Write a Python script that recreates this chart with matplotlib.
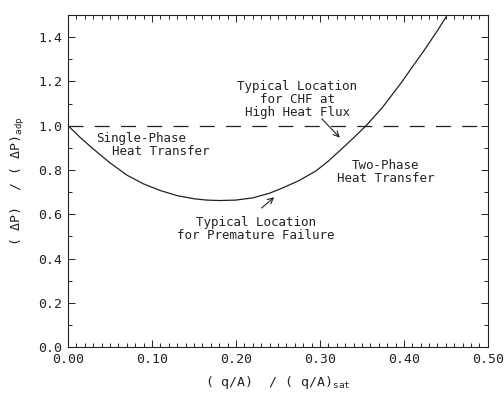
import matplotlib
matplotlib.use("Agg")
import matplotlib.pyplot as plt
import numpy as np

plt.rcParams['font.family'] = ['DejaVu Sans Mono']
plt.rcParams['mathtext.fontset'] = 'custom'
plt.rcParams['mathtext.rm'] = 'DejaVu Sans Mono'
plt.rcParams['mathtext.it'] = 'DejaVu Sans Mono'

# Data
flux_ratio = [0.0, 0.015, 0.03, 0.05, 0.07, 0.09, 0.11, 0.13, 0.15, 0.165, 0.18, 0.20, 0.22,
              0.24, 0.255, 0.275, 0.295, 0.31, 0.325, 0.34, 0.355, 0.375,
              0.397, 0.41, 0.425, 0.44, 0.45]
dp_ratio = [1.0, 0.945, 0.895, 0.832, 0.777, 0.737, 0.707, 0.684, 0.670, 0.664, 0.662, 0.664, 0.674,
            0.695, 0.718, 0.752, 0.795, 0.84, 0.892, 0.945, 1.0, 1.085,
            1.195, 1.265, 1.345, 1.43, 1.49]
ref_level = 1.0
x_ticks = [0.0, 0.1, 0.2, 0.3, 0.4, 0.5]
x_tick_labels = ["0.00", "0.10", "0.20", "0.30", "0.40", "0.50"]
y_ticks = [0.0, 0.2, 0.4, 0.6, 0.8, 1.0, 1.2, 1.4]
y_tick_labels = ["0.0", "0.2", "0.4", "0.6", "0.8", "1.0", "1.2", "1.4"]

fig = plt.figure(figsize=(5.04, 3.94), dpi=100)
ax = fig.add_axes([0.135, 0.119, 0.833, 0.843])
ink = '#222222'

ax.plot(flux_ratio, dp_ratio, color=ink, lw=0.9)
ax.axhline(ref_level, color=ink, lw=0.9, linestyle=(0, (12, 9)))

ax.set_xlim(0, 0.5)
ax.set_ylim(0, 1.5)
ax.set_xticks(x_ticks)
ax.set_xticklabels(x_tick_labels)
ax.set_yticks(y_ticks)
ax.set_yticklabels(y_tick_labels)
ax.set_xticks(np.arange(0, 0.5001, 0.01), minor=True)
ax.set_yticks(np.arange(0, 1.5001, 0.1), minor=True)
ax.tick_params(which='both', direction='in', top=True, right=True,
               colors=ink, labelsize=9.5, width=0.7)
ax.tick_params(which='major', length=5, pad=4)
ax.tick_params(which='minor', length=3)
for s in ax.spines.values():
    s.set_linewidth(0.8)
    s.set_color(ink)

ax.set_xlabel("( q/A)  / ( q/A)$_{\\mathrm{sat}}$", fontsize=9.5, color=ink, labelpad=6)
ax.set_ylabel("( \u0394P)  / ( \u0394P)$_{\\mathrm{adp}}$", fontsize=9.5, color=ink, labelpad=8)

tk = dict(fontsize=9, color=ink)
ax.text(0.034, 0.914, "Single-Phase\n  Heat Transfer", ha='left', va='center',
        linespacing=1.0, **tk)
ax.text(0.273, 1.118, "Typical Location\nfor CHF at\nHigh Heat Flux", ha='center',
        va='center', linespacing=1.0, **tk)
ax.text(0.378, 0.79, "Two-Phase\nHeat Transfer", ha='center', va='center',
        linespacing=1.0, **tk)
ax.text(0.224, 0.534, "Typical Location\nfor Premature Failure", ha='center',
        va='center', linespacing=1.0, **tk)

ax.annotate("", xy=(0.326, 0.937), xytext=(0.300, 1.04),
            arrowprops=dict(arrowstyle='->', color=ink, lw=0.8))
ax.annotate("", xy=(0.248, 0.685), xytext=(0.228, 0.62),
            arrowprops=dict(arrowstyle='->', color=ink, lw=0.8))

fig.savefig("out.png", dpi=100)
